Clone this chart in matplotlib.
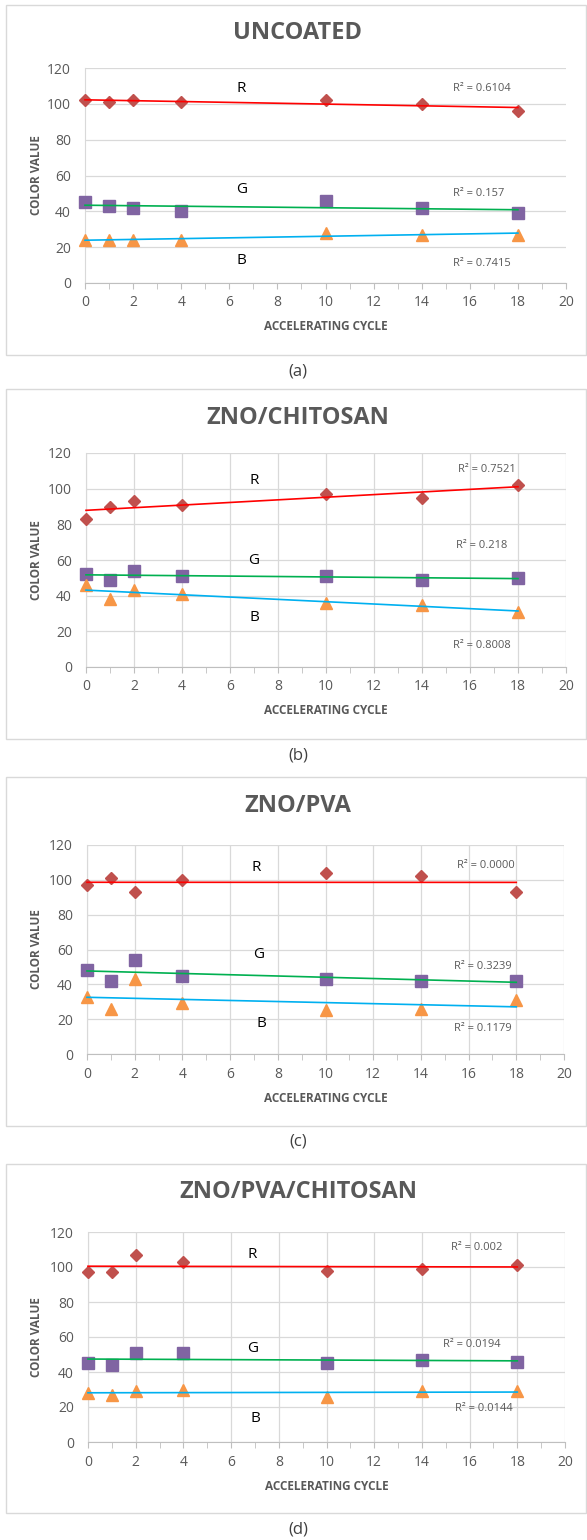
import numpy as np
import matplotlib
matplotlib.use("Agg")
import matplotlib.pyplot as plt
from matplotlib.patches import Rectangle

plt.rcParams['font.family'] = ['Open Sans', 'DejaVu Sans']

# data
cycles = [0, 1, 2, 4, 10, 14, 18]

titles = ['UNCOATED', 'ZNO/CHITOSAN', 'ZNO/PVA', 'ZNO/PVA/CHITOSAN']
captions = ['(a)', '(b)', '(c)', '(d)']

uncoated_r = [102, 101, 102, 101, 102, 100, 96]
uncoated_g = [45, 43, 42, 40, 46, 42, 39]
uncoated_b = [24, 24, 24, 24, 28, 27, 27]

zno_chitosan_r = [83, 90, 93, 91, 97, 95, 102]
zno_chitosan_g = [52, 49, 54, 51, 51, 49, 50]
zno_chitosan_b = [46, 38, 43, 41, 36, 35, 31]

zno_pva_r = [97, 101, 93, 100, 104, 102, 93]
zno_pva_g = [48, 42, 54, 45, 43, 42, 42]
zno_pva_b = [33, 26, 43, 29, 25, 26, 31]

zno_pva_chit_r = [97, 97, 107, 103, 98, 99, 101]
zno_pva_chit_g = [45, 44, 51, 51, 45, 47, 46]
zno_pva_chit_b = [28, 27, 29, 30, 26, 29, 29]

r2_labels = [
    ['R² = 0.6104', 'R² = 0.157', 'R² = 0.7415'],
    ['R² = 0.7521', 'R² = 0.218', 'R² = 0.8008'],
    ['R² = 0.0000', 'R² = 0.3239', 'R² = 0.1179'],
    ['R² = 0.002', 'R² = 0.0194', 'R² = 0.0144'],
]

series = [
    (uncoated_r, uncoated_g, uncoated_b),
    (zno_chitosan_r, zno_chitosan_g, zno_chitosan_b),
    (zno_pva_r, zno_pva_g, zno_pva_b),
    (zno_pva_chit_r, zno_pva_chit_g, zno_pva_chit_b),
]

# layout (pixels, from top of image)
W, H = 587, 1540
plot_box = [  # left, right, top, bottom of plot area
    (85, 566, 68, 283),
    (86, 566, 453, 667),
    (87, 564, 845, 1054),
    (88, 565, 1232, 1442),
]
frame_box = [(6, 5, 355), (6, 389, 739), (6, 777, 1126), (6, 1164, 1513)]
title_y = [33, 418, 806, 1192]
xlabel_y = [327, 711, 1098, 1486]
caption_y = [372, 755, 1142, 1530]
vgrid = [False, True, True, True]

# R/G/B letter positions (data coords) and R² label positions
rgb_pos = [
    [(6.5, 108.8), (6.5, 52), (6.5, 12.8)],
    [(7.0, 104.4), (7.0, 60), (7.0, 28)],
    [(7.1, 107), (7.2, 57.4), (7.3, 17.6)],
    [(6.9, 107), (6.9, 53.3), (7.0, 13.3)],
]
r2_pos = [
    [(15.3, 108.8), (15.3, 50), (15.3, 11)],
    [(15.5, 111), (15.4, 68), (15.3, 11.8)],
    [(15.5, 108.5), (15.4, 50.5), (15.4, 14.7)],
    [(15.2, 111.4), (14.9, 55.6), (15.4, 19)],
]

marker_colors = ['#C0504D', '#8064A2', '#F79646']
marker_shapes = ['D', 's', '^']
marker_sizes = [6, 8, 8]
line_colors = ['#FF0000', '#00B050', '#00B0F0']
gray = '#595959'
grid_c = '#D9D9D9'

fig = plt.figure(figsize=(W / 100, H / 100), dpi=100)

for i in range(4):
    l, r, t, b = plot_box[i]
    fl, ft, fb = frame_box[i]
    fig.patches.append(Rectangle((fl / W, 1 - fb / H), (W - 1 - fl) / W, (fb - ft) / H,
                                 transform=fig.transFigure, fill=False,
                                 edgecolor='#D9D9D9', lw=1))
    ax = fig.add_axes([l / W, 1 - b / H, (r - l) / W, (b - t) / H])

    for k, vals in enumerate(series[i]):
        ax.plot(cycles, vals, linestyle='none', marker=marker_shapes[k],
                ms=marker_sizes[k], color=marker_colors[k], zorder=3, clip_on=False)
        slope, icpt = np.polyfit(cycles, vals, 1)
        xs = np.array([cycles[0], cycles[-1]])
        ax.plot(xs, slope * xs + icpt, color=line_colors[k], lw=1.2, zorder=4,
                clip_on=False)
        ax.text(rgb_pos[i][k][0], rgb_pos[i][k][1], 'RGB'[k], ha='center',
                va='center', fontsize=11, color='black')
        ax.text(r2_pos[i][k][0], r2_pos[i][k][1], r2_labels[i][k], ha='left',
                va='center', fontsize=8, color=gray)

    ax.set_xlim(0, 20)
    ax.set_ylim(0, 120)
    ax.set_xticks(range(0, 21, 2))
    ax.set_xticks(range(1, 20, 2), minor=True)
    ax.set_yticks(range(0, 121, 20))
    ax.yaxis.grid(True, color=grid_c, lw=0.9)
    if vgrid[i]:
        ax.xaxis.grid(True, color=grid_c, lw=0.9)
    ax.set_axisbelow(True)
    for s in ['top', 'right']:
        ax.spines[s].set_visible(False)
    ax.spines['left'].set_color(grid_c)
    ax.spines['bottom'].set_color('#BFBFBF')
    ax.tick_params(axis='y', length=0, pad=10, labelsize=10, labelcolor=gray)
    ax.tick_params(axis='x', which='both', length=4, color='#BFBFBF',
                   pad=5, labelsize=10, labelcolor=gray)
    ax.set_facecolor('none')

    fig.text((l + r) / 2 / W, 1 - xlabel_y[i] / H, 'ACCELERATING CYCLE', ha='center',
             va='center', fontsize=8.5, fontweight='bold', color=gray)
    fig.text(36 / W, 1 - (t + b) / 2 / H, 'COLOR VALUE', ha='center', va='center',
             rotation=90, fontsize=8.5, fontweight='bold', color=gray)
    fig.text(298 / W, 1 - title_y[i] / H, titles[i], ha='center', va='center',
             fontsize=17, fontweight='bold', color=gray)
    fig.text(298 / W, 1 - caption_y[i] / H, captions[i], ha='center', va='center',
             fontsize=12, color='#404040')

fig.savefig('out.png', dpi=100, facecolor='white')
